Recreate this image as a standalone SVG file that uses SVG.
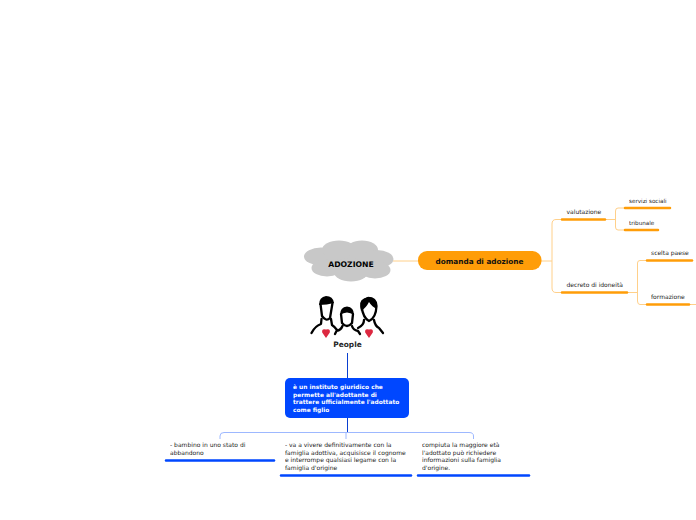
<svg xmlns="http://www.w3.org/2000/svg" width="696" height="520" viewBox="0 0 696 520">
<style>
text{font-family:"DejaVu Sans",sans-serif;font-size:6px;fill:#222;text-rendering:geometricPrecision;opacity:.99}
.b{font-weight:bold;fill:#000}
.w{font-weight:bold;fill:#fff;font-size:5.900px}
.s{font-size:5.650px}
.oc{fill:none;stroke:#ffd08a;stroke-width:1}
.bc{fill:none;stroke:#9db8ff;stroke-width:1}
.ou{stroke:#ff9d08;stroke-width:2.5;stroke-linecap:round}
.bu{stroke:#0047ff;stroke-width:2.5;stroke-linecap:round}
.k{fill:none;stroke:#000;stroke-width:2.300;stroke-linecap:round;stroke-linejoin:round}
.h{fill:#dc2840}
</style>
<g id="connectors">
<path class="oc" d="M393 261H418"/>
<path class="oc" d="M541 261H552"/>
<path class="oc" d="M562 219.500H556Q552 219.500 552 224V288Q552 292.500 556 292.500H562"/>
<path class="oc" d="M606 219.500H615"/>
<path class="oc" d="M625 208H618Q615.500 208 615.500 211V227Q615.500 230 618 230H625"/>
<path class="oc" d="M628 292.500H637"/>
<path class="oc" d="M646 260.500H640Q637.500 260.500 637.500 263V301Q637.500 304.500 640 304.500H646"/>
<path class="oc" d="M689 304.500H696"/>
<path d="M347.500 353V378" fill="none" stroke="#0a3fd0" stroke-width="1"/>
<path d="M347.500 418V432" fill="none" stroke="#0a3fd0" stroke-width="1"/>
<path class="bc" d="M220 439V436Q220 432.500 224 432.500H469Q473.500 432.500 473.500 436V439"/>
<path class="bc" d="M346 432.500V439"/>
</g>
<g id="root">
<g fill="#c8c8c8">
<ellipse cx="349" cy="259" rx="34" ry="12"/>
<ellipse cx="321" cy="256.500" rx="17" ry="9"/>
<ellipse cx="339" cy="250" rx="17" ry="9.500"/>
<ellipse cx="362" cy="250" rx="16" ry="9.500"/>
<ellipse cx="377" cy="259" rx="16.500" ry="9"/>
<ellipse cx="375" cy="270" rx="15.500" ry="8.500"/>
<ellipse cx="351" cy="272" rx="17" ry="9.500"/>
<ellipse cx="327" cy="268" rx="15.500" ry="8.500"/>
</g>
<text class="b" x="351" y="266.500" text-anchor="middle" style="font-size:7.700px">ADOZIONE</text>
</g>
<g id="people">
<path class="k" d="M320.500 304L322 316Q326 322 330 318L332.500 303"/>
<path d="M319 305Q319 297 326 296Q333 296 334 303Q327 305 319 305Z" fill="#000"/>
<path class="k" d="M321.500 319L321 324Q315 326 311.500 333"/>
<path class="k" d="M331 319L332 325Q335 327 337 330"/>
<path class="k" d="M341 314L342 323Q347 329 352 323L353 314"/>
<path d="M340 315Q340 307 347 306.500Q354 307 354 315Q347 310 340 315Z" fill="#000"/>
<path class="k" d="M342.500 326Q341 330 336.500 331L335 334"/>
<path class="k" d="M352 326Q353 330 358 331L360 334"/>
<path class="k" d="M361.500 306Q360 300 368 298Q376 298 376.500 306Q376 318 369 321Q363 318 361.500 306Z"/>
<path d="M361 311Q358 300 368 297Q378 298 377 309Q372 307 369 302Q366 308 361 311Z" fill="#000"/>
<path class="k" d="M364 320Q364 325 358 328"/>
<path class="k" d="M374 320Q375 326 379 328L383 333"/>
<path class="h" d="M326 338L322.200 332.500Q321.500 328 326 329.500Q330.500 328 329.800 332.500Z"/>
<path class="h" d="M369 338L365.200 332.500Q364.500 328 369 329.500Q373.500 328 372.800 332.500Z"/>
<text class="b" x="347.500" y="347" text-anchor="middle" style="font-size:7.400px;fill:#222">People</text>
</g>
<g id="domanda">
<rect x="418" y="251" width="123.500" height="19" rx="9" fill="#ff9d08"/>
<text class="b" x="479.500" y="264" text-anchor="middle" style="font-size:7.300px;fill:#111">domanda di adozione</text>
</g>
<g id="valutazione"><text x="566.500" y="214">valutazione</text><line class="ou" x1="562" y1="219.500" x2="605" y2="219.500"/></g>
<g id="servizi"><text class="s" x="629" y="203">servizi sociali</text><line class="ou" x1="625" y1="208" x2="670" y2="208"/></g>
<g id="tribunale"><text class="s" x="629" y="225">tribunale</text><line class="ou" x1="625" y1="230" x2="658" y2="230"/></g>
<g id="decreto"><text x="566.500" y="287">decreto di idoneità</text><line class="ou" x1="562" y1="292.500" x2="627" y2="292.500"/></g>
<g id="scelta"><text x="651" y="255">scelta paese</text><line class="ou" x1="647" y1="260.500" x2="692" y2="260.500"/></g>
<g id="formazione"><text x="651" y="299">formazione</text><line class="ou" x1="647" y1="304.500" x2="689" y2="304.500"/></g>
<g id="definizione">
<rect x="285" y="378" width="124" height="40" rx="5" fill="#0047ff"/>
<text class="w" x="293" y="389">è un instituto giuridico che</text>
<text class="w" x="293" y="397">permette all'adottante di</text>
<text class="w" x="293" y="404">trattere ufficialmente l'adottato</text>
<text class="w" x="293" y="412">come figlio</text>
</g>
<g id="n1">
<text x="170" y="447"> - bambino in uno stato di</text>
<text x="170" y="455">abbandono</text>
<line class="bu" x1="166" y1="460.500" x2="274" y2="460.500"/>
</g>
<g id="n2">
<text x="285" y="447">- va a vivere definitivamente con la</text>
<text x="285" y="455">famiglia adottiva, acquisisce il cognome</text>
<text x="285" y="462">e interrompe qualsiasi legame con la</text>
<text x="285" y="470">famiglia d'origine</text>
<line class="bu" x1="281" y1="475.500" x2="411" y2="475.500"/>
</g>
<g id="n3">
<text x="422" y="447">compiuta la maggiore età</text>
<text x="422" y="455">l'adottato può richiedere</text>
<text x="422" y="462">informazioni sulla famiglia</text>
<text x="422" y="470">d'origine.</text>
<line class="bu" x1="418" y1="475.500" x2="529" y2="475.500"/>
</g>
</svg>
